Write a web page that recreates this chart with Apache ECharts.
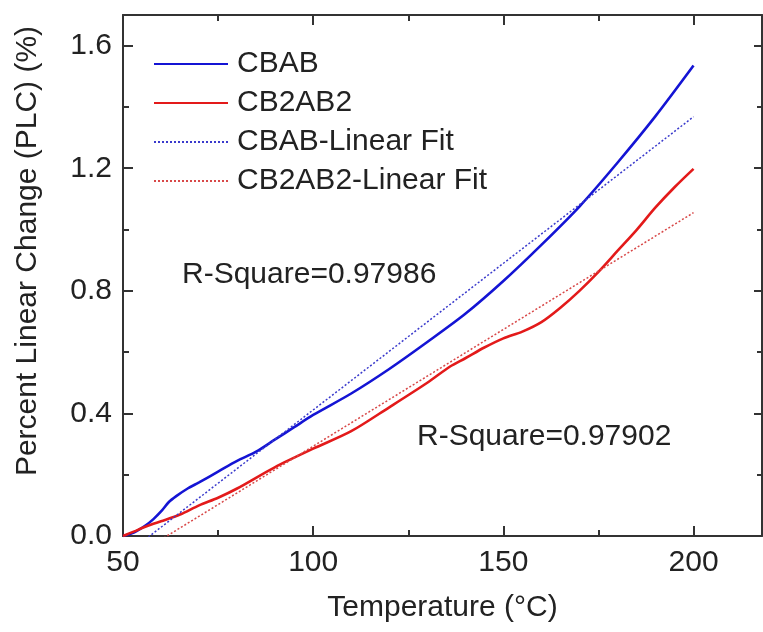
<!DOCTYPE html>
<html>
<head>
<meta charset="utf-8">
<script src="https://cdn.jsdelivr.net/npm/echarts@6/dist/echarts.min.js"></script>
<style>html,body{margin:0;padding:0;background:#fff;}#main{width:763px;height:632px;}</style>
</head>
<body>
<div id="main"></div>
<script>
// ---- data ----
const cbabTemp = [50, 53, 56, 58, 60, 62, 64, 67, 70, 75, 80, 85, 90, 95, 100, 110, 120, 130, 140, 150, 160, 170, 180, 190, 200];
const cbabPLC  = [0, 0.012, 0.035, 0.055, 0.08, 0.11, 0.13, 0.155, 0.175, 0.21, 0.245, 0.275, 0.315, 0.355, 0.395, 0.465, 0.545, 0.633, 0.725, 0.832, 0.95, 1.075, 1.218, 1.37, 1.535];
const cb2Temp  = [50, 53, 55, 58, 60, 65, 70, 75, 80, 90, 100, 110, 120, 130, 136, 140, 145, 150, 155, 160, 165, 170, 175, 180, 185, 190, 195, 200];
const cb2PLC   = [0, 0.015, 0.026, 0.04, 0.048, 0.07, 0.1, 0.125, 0.155, 0.225, 0.285, 0.342, 0.42, 0.5, 0.553, 0.58, 0.615, 0.645, 0.667, 0.698, 0.745, 0.8, 0.862, 0.93, 0.998, 1.072, 1.138, 1.198];
const fitTemp  = [50, 200];
const cbabFit  = [-0.067, 1.368];
const cb2Fit   = [-0.088, 1.055];
const seriesNames = ['CBAB', 'CB2AB2', 'CBAB-Linear Fit', 'CB2AB2-Linear Fit'];
const xMajor = [50, 100, 150, 200];
const xMinor = [75, 125, 175];
const yMajor = [0, 0.4, 0.8, 1.2, 1.6];
const yMinor = [0.2, 0.6, 1.0, 1.4];
const annotations = ['R-Square=0.97986', 'R-Square=0.97902'];

const pairs = (xs, ys) => xs.map((x, i) => [x, ys[i]]);
const FONT = 'Liberation Sans, Arial, sans-serif';
const AX = '#333';

function xAx(pos, ticks, len, showLine, showLabel) {
  return {
    type: 'value', position: pos, min: 50, max: 218,
    axisLine: { show: showLine, onZero: false, lineStyle: { color: AX, width: 2 } },
    axisTick: { show: true, inside: true, length: len, customValues: ticks, lineStyle: { color: AX, width: 2 } },
    axisLabel: { show: showLabel, customValues: ticks, margin: 12, color: '#222', fontSize: 30, fontFamily: FONT },
    splitLine: { show: false }
  };
}
function yAx(pos, ticks, len, showLine, showLabel) {
  return {
    type: 'value', position: pos, min: 0, max: 1.7,
    axisLine: { show: showLine, onZero: false, lineStyle: { color: AX, width: 2 } },
    axisTick: { show: true, inside: true, length: len, customValues: ticks, lineStyle: { color: AX, width: 2 } },
    axisLabel: { show: showLabel, customValues: ticks, margin: 11, color: '#222', fontSize: 30, fontFamily: FONT,
      formatter: v => v.toFixed(1) },
    splitLine: { show: false }
  };
}

const chart = echarts.init(document.getElementById('main'), null, { renderer: 'canvas' });
chart.setOption({
  animation: false,
  backgroundColor: '#fff',
  grid: { left: 123, right: 1, top: 15, bottom: 96, containLabel: false },
  xAxis: [
    Object.assign(xAx('bottom', xMajor, 10, true, true), {
      name: 'Temperature (\u00B0C)', nameLocation: 'middle', nameGap: 57,
      nameTextStyle: { fontSize: 30, fontFamily: FONT, color: '#222' } }),
    xAx('bottom', xMinor, 6, false, false),
    xAx('top', xMajor, 10, true, false),
    xAx('top', xMinor, 6, false, false)
  ],
  yAxis: [
    yAx('left', yMajor, 10, true, true),
    yAx('left', yMinor, 6, false, false),
    yAx('right', yMajor, 8, true, false),
    yAx('right', yMinor, 5, false, false)
  ],
  legend: {
    data: seriesNames, orient: 'vertical', left: 153, top: 49, padding: 0,
    itemWidth: 74, itemHeight: 14, itemGap: 9,
    itemStyle: { opacity: 0, borderWidth: 0 },
    textStyle: { fontSize: 30, fontFamily: FONT, color: '#222', lineHeight: 30, padding: [0, 0, 0, 4] }
  },
  graphic: [
    { type: 'text', x: 28, y: 251, rotation: Math.PI / 2,
      style: { text: 'Percent Linear Change (PLC) (%)', font: '30px ' + FONT, fill: '#222', textAlign: 'center', textVerticalAlign: 'middle' } },
    { type: 'text', x: 182, y: 275,
      style: { text: annotations[0], font: '30px ' + FONT, fill: '#222', textAlign: 'left', textVerticalAlign: 'middle' } },
    { type: 'text', x: 417, y: 437,
      style: { text: annotations[1], font: '30px ' + FONT, fill: '#222', textAlign: 'left', textVerticalAlign: 'middle' } }
  ],
  series: [
    { name: seriesNames[0], type: 'line', data: pairs(cbabTemp, cbabPLC), showSymbol: false, symbol: 'none', smooth: 0.3,
      lineStyle: { color: '#1414d4', width: 2.6 }, itemStyle: { color: '#1414d4' } },
    { name: seriesNames[1], type: 'line', data: pairs(cb2Temp, cb2PLC), showSymbol: false, symbol: 'none', smooth: 0.3,
      lineStyle: { color: '#e31a1a', width: 2.6 }, itemStyle: { color: '#e31a1a' } },
    { name: seriesNames[2], type: 'line', data: pairs(fitTemp, cbabFit), showSymbol: false, symbol: 'none', clip: true,
      lineStyle: { color: '#3a3acc', width: 1.5, type: [2, 2] }, itemStyle: { color: '#3a3acc' } },
    { name: seriesNames[3], type: 'line', data: pairs(fitTemp, cb2Fit), showSymbol: false, symbol: 'none', clip: true,
      lineStyle: { color: '#d84848', width: 1.5, type: [2, 2] }, itemStyle: { color: '#d84848' } }
  ]
});
</script>
</body>
</html>
